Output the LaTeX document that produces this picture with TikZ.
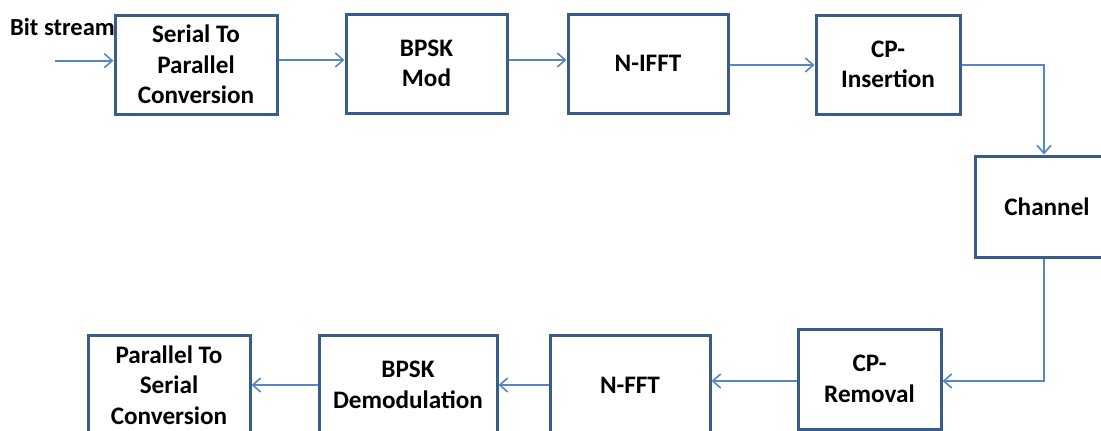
\documentclass[tikz,border=0pt]{standalone}
\usepackage{fontspec}
\setmainfont{Carlito}
\usetikzlibrary{arrows.meta}
\definecolor{boxline}{HTML}{385D8A}
\definecolor{flowline}{HTML}{5686C4}
\tikzset{
  blk/.style={draw=boxline, line width=3pt, fill=white, align=center,
    inner sep=0pt, text=black,
    font=\bfseries\fontsize{25.2}{30.5}\selectfont},
  flow/.style={draw=flowline, line width=1.6pt,
    -{Straight Barb[length=8pt, width=14pt]}},
  lbl/.style={text=black, inner sep=0pt,
    font=\bfseries\fontsize{24.5}{30}\selectfont}
}
\begin{document}
\begin{tikzpicture}[x=1pt, y=-1pt]
  \useasboundingbox (0,0) rectangle (1101,431);
  \clip (0,0) rectangle (1101,431);

  % transmitter chain
  \node[blk, minimum width=162pt, minimum height=99pt] (s2p)   at (196,64.5)   {Serial To\\Parallel\\Conversion};
  \node[blk, minimum width=161pt, minimum height=99pt] (bpsk)  at (426.5,63.5) {BPSK\\Mod};
  \node[blk, minimum width=160pt, minimum height=99pt] (ifft)  at (648,63.5)   {N-IFFT};
  \node[blk, minimum width=144pt, minimum height=99pt] (cpi)   at (888,64.5)   {CP-\\Insertion};

  % channel
  \node[blk, minimum width=144pt, minimum height=101pt] (chan) at (1047,206.5) {Channel};

  % receiver chain
  \node[blk, minimum width=143pt, minimum height=100pt] (cpr)   at (869.5,379) {CP-\\Removal};
  \node[blk, minimum width=160pt, minimum height=100pt] (fft)   at (630,385)   {N-FFT};
  \node[blk, minimum width=178pt, minimum height=100pt] (demod) at (408,385)   {BPSK\\Demodulation};
  \node[blk, minimum width=162pt, minimum height=100pt] (p2s)   at (169,385)   {Parallel To\\Serial\\Conversion};

  % input label
  \node[lbl, anchor=base west] (bits) at (10,35) {Bit stream};

  % signal levels
  \coordinate (src) at (55,60.7);
  \coordinate (r1) at (0,60);
  \coordinate (r2) at (0,65);
  \coordinate (r3) at (0,381);
  \coordinate (r4) at (0,385);

  % connectors
  \draw[flow] (src) -- (src -| s2p.west);
  \draw[flow] (s2p.east |- r1) -- (bpsk.west |- r1);
  \draw[flow] (bpsk.east |- r1) -- (ifft.west |- r1);
  \draw[flow] (ifft.east |- r2) -- (cpi.west |- r2);
  \draw[flow] (cpi.east |- r2) -| ([xshift=-3pt]chan.north);
  \draw[flow] ([xshift=-3pt]chan.south) |- (cpr.east |- r3);
  \draw[flow] (cpr.west |- r3) -- (fft.east |- r3);
  \draw[flow] (fft.west |- r4) -- (demod.east |- r4);
  \draw[flow] (demod.west |- r4) -- (p2s.east |- r4);
\end{tikzpicture}
\end{document}
